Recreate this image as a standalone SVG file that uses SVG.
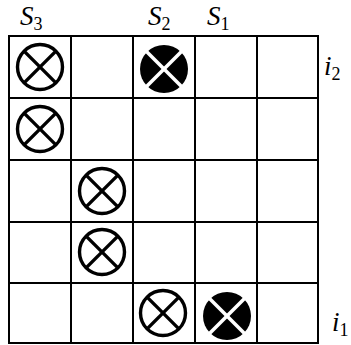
<svg xmlns="http://www.w3.org/2000/svg" width="351" height="345" viewBox="0 0 351 345">
<defs>
<style>
.grid line{stroke:#000;stroke-width:2;stroke-linecap:square}
.lbl{font-family:"Liberation Serif","DejaVu Serif",serif;font-style:italic;font-size:27px;fill:#000}
.sub{font-style:normal;font-size:18px}
.ring{fill:#fff;stroke:#000;stroke-width:3.4}
.rx{stroke:#000;stroke-width:3.4}
.disk{fill:#000}
.dx{stroke:#fff;stroke-width:3.5}
</style>
<g id="open">
<circle class="ring" r="22.5"/>
<line class="rx" x1="-15.9" y1="-15.9" x2="15.9" y2="15.9"/>
<line class="rx" x1="-15.9" y1="15.9" x2="15.9" y2="-15.9"/>
</g>
<g id="filled">
<circle class="disk" r="24"/>
<line class="dx" x1="-17.5" y1="-17.5" x2="17.5" y2="17.5"/>
<line class="dx" x1="-17.5" y1="17.5" x2="17.5" y2="-17.5"/>
</g>
</defs>
<rect width="351" height="345" fill="#fff"/>
<g id="grid" class="grid">
<line x1="9" y1="36" x2="9" y2="343"/>
<line x1="71" y1="36" x2="71" y2="343"/>
<line x1="133" y1="36" x2="133" y2="343"/>
<line x1="195" y1="36" x2="195" y2="343"/>
<line x1="257" y1="36" x2="257" y2="343"/>
<line x1="318" y1="36" x2="318" y2="343"/>
<line x1="9" y1="36" x2="318" y2="36"/>
<line x1="9" y1="98" x2="318" y2="98"/>
<line x1="9" y1="160" x2="318" y2="160"/>
<line x1="9" y1="222" x2="318" y2="222"/>
<line x1="9" y1="283" x2="318" y2="283"/>
<line x1="9" y1="343" x2="318" y2="343"/>
</g>
<g id="m1"><use href="#open" x="40" y="67"/></g>
<g id="m2"><use href="#open" x="40" y="129"/></g>
<g id="m3"><use href="#open" x="102" y="191"/></g>
<g id="m4"><use href="#open" x="102" y="252"/></g>
<g id="m5"><use href="#open" x="163" y="313"/></g>
<g id="f1"><use href="#filled" x="164" y="69"/></g>
<g id="f2"><use href="#filled" x="227" y="316"/></g>
<g id="labels">
<text class="lbl" x="20" y="25">S<tspan class="sub" dy="5">3</tspan></text>
<text class="lbl" x="148" y="25">S<tspan class="sub" dy="5">2</tspan></text>
<text class="lbl" x="207" y="25">S<tspan class="sub" dy="5">1</tspan></text>
<text class="lbl" x="324" y="75">i<tspan class="sub" dy="5">2</tspan></text>
<text class="lbl" x="332" y="331">i<tspan class="sub" dy="5">1</tspan></text>
</g>
</svg>
